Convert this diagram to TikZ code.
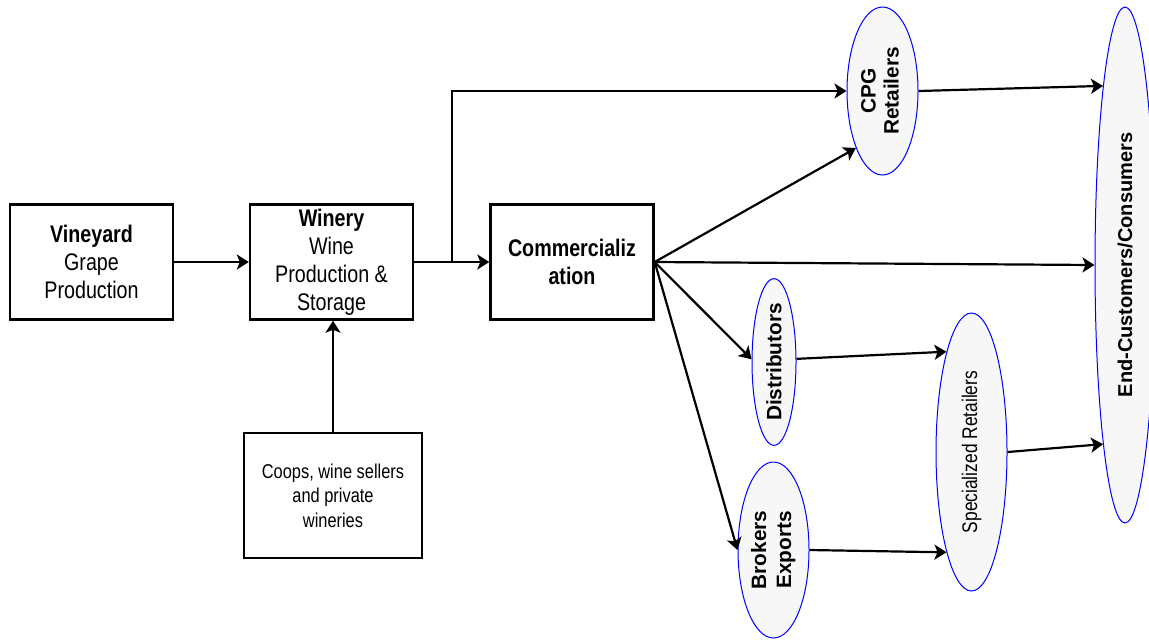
\documentclass[tikz,border=0pt]{standalone}
\usepackage{fontspec}
\setmainfont{Liberation Sans}
\newfontfamily\narrow[FakeStretch=0.82]{Liberation Sans}
\usetikzlibrary{shapes.geometric,arrows.meta,calc}
\definecolor{ovalfill}{HTML}{F7F7F7}

\begin{document}
\begin{tikzpicture}[x=0.5pt,y=-0.5pt,
  box/.style={draw,line width=1.2pt,minimum width=81.5pt,minimum height=57.5pt,inner sep=0pt,
    align=center,font=\narrow\fontsize{12}{14}\selectfont},
  oval/.style={ellipse,draw=blue,line width=0.5pt,fill=ovalfill,inner sep=0pt},
  arr/.style={-{Stealth[length=6pt,width=7.5pt,inset=1.5pt]},line width=1.1pt}]
\useasboundingbox (0,0) rectangle (1149,639);
% the chain of boxes
\node[box] (vine) at (91.5,262) {\textbf{Vineyard}\\Grape\\Production};
\node[box] (win) at (331.5,262) {\textbf{Winery}\\Wine\\Production \&\\Storage};
\node[box] (com) at (572,262) {\textbf{Commercializ}\\\textbf{ation}};
\node[box,line width=0.6pt,minimum width=89pt,minimum height=62.5pt,
  font=\narrow\fontsize{10}{12.3}\selectfont] (coop) at (333,495.5)
  {Coops, wine sellers\\and private\\wineries};
% the ovals
\node[oval,minimum width=35.5pt,minimum height=84pt] (cpg) at (882.5,91)
  {\fontsize{10.4}{11.5}\selectfont\bfseries\rotatebox{90}{\begin{tabular}{@{}c@{}}CPG\\Retailers\end{tabular}}};
\node[oval,minimum width=22pt,minimum height=80pt] (dist) at (774,362)
  {\fontsize{10.4}{12}\selectfont\bfseries\rotatebox{90}{Distributors}};
\node[oval,minimum width=35.5pt,minimum height=88pt] (brk) at (773.5,550)
  {\fontsize{10.4}{12.5}\selectfont\bfseries\rotatebox{90}{\begin{tabular}{@{}c@{}}Brokers\\Exports\end{tabular}}};
\node[oval,minimum width=35.5pt,minimum height=139pt] (spec) at (971.5,452)
  {\narrow\fontsize{10.6}{12}\selectfont\rotatebox{90}{Specialized Retailers}};
\node[oval,minimum width=30pt,minimum height=258pt] (end) at (1125,265)
  {\fontsize{10}{12}\selectfont\bfseries\rotatebox{90}{End-Customers/Consumers}};
% connectors
\coordinate (br) at ($(win.east)!0.5!(com.west)$);
\draw[arr] (vine) -- (win);
\draw[arr] (win) -- (com);
\draw[arr] (br) |- (cpg.west);
\draw[arr] (coop.north) -- (coop.north |- win.south);
\draw[arr] (com.east) -- (cpg.245);
\draw[arr] (com.east) -- (end.west);
\draw[arr] (com.east) -- (dist.173);
\draw[arr] (com.east) -- (brk.west);
\draw[arr] (cpg.east) -- (end.97);
\draw[arr] (dist.8) -- (spec.104);
\draw[arr] (brk.east) -- (spec.256);
\draw[arr] (spec.east) -- (end.263);
\end{tikzpicture}
\end{document}
